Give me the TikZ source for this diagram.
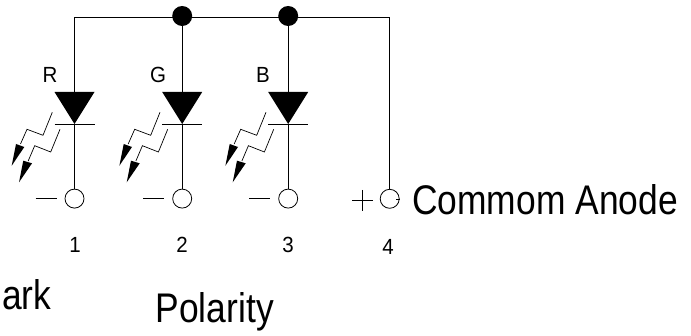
\documentclass[tikz,border=0pt]{standalone}
\usepackage{fontspec}
\setmainfont{Liberation Sans}
\newcommand{\tallA}[1]{\scalebox{1}[1.17]{#1}}
\newcommand{\tallB}[1]{\scalebox{1}[1.07]{#1}}
\tikzset{
  wire/.style={draw=black,line width=0.9pt},
  thinwire/.style={draw=black,line width=0.7pt},
  pad/.style={circle,draw=black,line width=0.8pt,minimum size=19pt,inner sep=0pt,fill=white},
  junction/.style={circle,fill=black,minimum size=20pt,inner sep=0pt},
  small/.style={font=\fontsize{20.5}{22}\selectfont,inner sep=0pt},
  big/.style={font=\fontsize{35.4}{38}\selectfont,inner sep=0pt,anchor=base west},
  headtip/.style={fill=black,draw=none}
}
\begin{document}
\begin{tikzpicture}[x=1pt,y=-1pt]
\useasboundingbox (0,0) rectangle (691,336);
\node[junction] (j2) at (182.2,16) {};
\node[junction] (j3) at (288.2,16) {};
\coordinate (c1) at (74.5,17.3);
\coordinate (c4) at (389.4,17.3);
\coordinate (s2) at (182.2,17.3);
\coordinate (s3) at (288.2,17.3);
\node[pad] (p1) at (74.5,198.6) {};
\node[pad] (p2) at (182.2,198.6) {};
\node[pad] (p3) at (288.2,198.6) {};
\node[pad] (p4) at (389.7,198.8) {};
\draw[wire] (c1) -- (c4) -- (p4.north -| c4);
\draw[thinwire] (p4.east) ++(-3.4,0.5) coordinate (t4) -- (p4.east |- t4);
\foreach \n/\x/\s in {1/74.5/c1,2/182.2/s2,3/288.2/s3}{
  \coordinate (top\n) at (\x,92);
  \coordinate (tip\n) at (\x,124);
  \draw[wire] (\s) -- (top\n);
  \draw[wire] (tip\n) -- (p\n);
  \fill[black] (\x-20,92) -- (\x+20,92) -- (tip\n) -- cycle;
  \draw[thinwire] (\x-20,124) -- (\x+20,124);
  \draw[thinwire] (\x-22.2,112.3) -- (\x-31.5,135.3) -- (\x-47.5,129.3) -- (\x-54,144);
  \fill[headtip] (\x-58.5,144) -- (\x-50.2,147) -- (\x-62.8,165.7) -- cycle;
  \draw[thinwire] (\x-14.5,129.3) -- (\x-23.8,152) -- (\x-39.8,145.7) -- (\x-46.3,161);
  \fill[headtip] (\x-51.2,160.7) -- (\x-42.5,163.3) -- (\x-55.5,182.3) -- cycle;
  \draw[thinwire] (\x-38.8,198.3) -- (\x-17.8,198.3);
}
\coordinate (pa) at (352,200);
\coordinate (pb) at (372.7,200);
\coordinate (pc) at (362.3,190);
\coordinate (pd) at (362.3,211);
\draw[thinwire] (pa) -- (pb) (pc) -- (pd);
\node[small] (lr) at (50,75) {\tallB{R}};
\node[small] (lg) at (158,75) {\tallB{G}};
\node[small] (lb) at (263,75) {\tallB{B}};
\node[small] (n1) at (75,245) {\tallB{1}};
\node[small] (n2) at (182,245) {\tallB{2}};
\node[small] (n3) at (288,245) {\tallB{3}};
\node[small] (n4) at (388,246.5) {\tallB{4}};
\node[big] (anode) at (412,215) {\tallA{Commom Anode}};
\node[big] (mark) at (2,310) {\tallA{ark}};
\node[big] (pol) at (155.5,323) {\tallA{Polarity}};
\end{tikzpicture}
\end{document}
